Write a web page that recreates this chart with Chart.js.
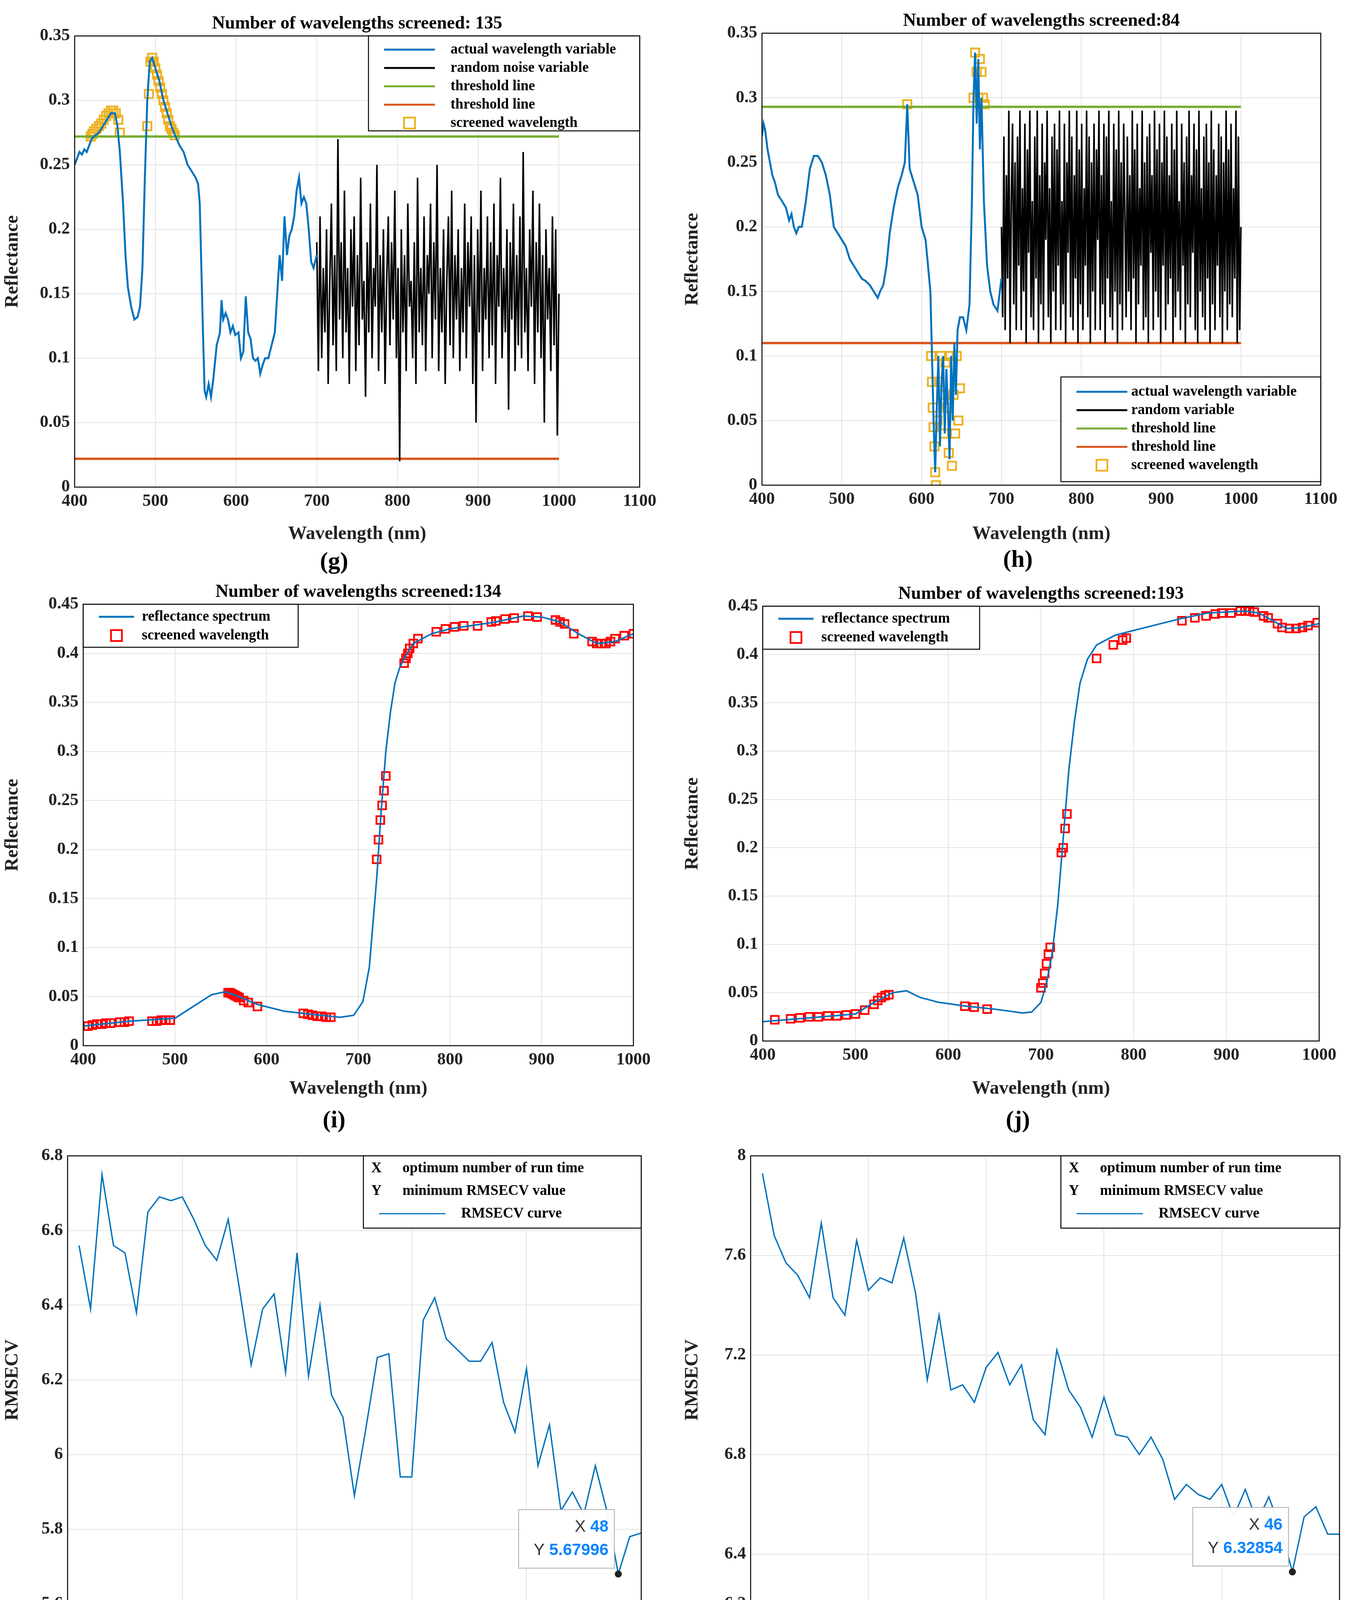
<!DOCTYPE html><html><head><meta charset="utf-8">
<script src="https://cdn.jsdelivr.net/npm/chart.js@4/dist/chart.umd.min.js"></script>
<style>body{margin:0;background:#fff;width:3460px;height:4386px;position:relative;overflow:hidden}
canvas{position:absolute}.lab{position:absolute;font:bold 62px "Liberation Serif";transform:translateX(-50%)}</style></head><body>
<div class="lab" style="left:855px;top:1400px">(g)</div><div class="lab" style="left:2605px;top:1395px">(h)</div>
<div class="lab" style="left:855px;top:2830px">(i)</div><div class="lab" style="left:2605px;top:2830px">(j)</div>
<div class="lab" style="left:855px;top:4270px">(k)</div><div class="lab" style="left:2605px;top:4270px">(l)</div>
<script>
const BLUE='#0072BD',ORANGE='#D95319',GREEN='#77AC30',YEL='#EDB120',RED='#FF0000';
// ---- panel g ----
const gSpecX=[400,403,406,409,412,415,418,421,424,430,435,440,445,450,453,456,460,463,466,470,474,478,481,484,487,490,493,496,500,505,510,515,520,525,530,535,540,545,550,553,555,557,559,561,563,566,569,572,576,580,582,584,587,590,593,596,599,603,606,609,612,615,618,621,624,627,630,633,636,640,644,648,651,654,657,660,663,666,669,672,675,678,681,684,687,690,693,696,700];
const gSpecY=[0.25,0.255,0.26,0.258,0.262,0.26,0.265,0.27,0.272,0.275,0.28,0.285,0.29,0.29,0.28,0.26,0.22,0.18,0.155,0.14,0.13,0.132,0.14,0.17,0.24,0.3,0.33,0.333,0.325,0.315,0.3,0.29,0.28,0.272,0.265,0.26,0.25,0.245,0.24,0.235,0.22,0.17,0.12,0.075,0.07,0.08,0.07,0.085,0.11,0.12,0.145,0.13,0.135,0.13,0.12,0.125,0.118,0.12,0.1,0.105,0.148,0.12,0.115,0.1,0.098,0.1,0.088,0.095,0.1,0.1,0.11,0.12,0.15,0.18,0.16,0.21,0.18,0.195,0.2,0.21,0.23,0.24,0.22,0.225,0.22,0.2,0.175,0.17,0.18];
const gNoiseTxt="19 09 21 10 17 12 20 08 16 22 11 18 09 27 13 19 10 23 12 17 08 20 14 21 09 18 11 24 13 16 07 19 12 22 10 17 14 25 09 18 12 20 08 16 21 11 19 13 23 10 17 02 20 12 18 09 22 14 16 10 19 08 24 12 17 11 21 09 18 15 22 10 19 13 25 09 17 12 20 08 16 21 11 23 10 18 13 20 09 17 12 22 10 19 14 21 08 18 05 20 12 23 09 17 13 21 10 19 11 22 08 18 14 24 10 17 12 20 06 19 13 22 09 18 11 21 10 26 12 17 09 20 14 23 08 19 12 22 10 18 05 20 13 17 09 21 11 20 04 15";
const gNoise=gNoiseTxt.split(' ').map(s=>+s/100);
const gThrHi=0.272, gThrLo=0.022;
const gScrX=[420,422,424,427,430,433,436,439,442,445,448,451,454,456,490,492,494,496,498,500,502,504,506,508,510,512,514,516,518,520,522,524];
const gScrY=[0.272,0.274,0.276,0.278,0.28,0.282,0.285,0.288,0.29,0.292,0.292,0.29,0.285,0.275,0.28,0.305,0.33,0.333,0.33,0.325,0.32,0.315,0.31,0.305,0.3,0.295,0.29,0.285,0.28,0.278,0.275,0.273];
// ---- panel h ----
const hSpecX=[400,402,404,407,410,413,416,420,425,430,434,437,440,443,446,450,455,460,465,470,475,480,485,490,495,500,505,510,515,520,525,530,535,540,545,548,552,556,560,565,570,575,579,582,585,590,595,600,605,608,611,613,615,617,619,621,623,625,627,629,631,633,635,637,639,641,643,645,648,652,656,660,663,665,667,669,671,673,675,678,682,686,690,695,700];
const hSpecY=[0.27,0.28,0.275,0.26,0.25,0.24,0.235,0.225,0.22,0.215,0.205,0.21,0.2,0.195,0.2,0.2,0.22,0.245,0.255,0.255,0.25,0.24,0.225,0.2,0.195,0.19,0.185,0.175,0.17,0.165,0.16,0.158,0.155,0.15,0.145,0.15,0.155,0.17,0.195,0.215,0.23,0.24,0.25,0.295,0.245,0.235,0.225,0.2,0.19,0.17,0.15,0.1,0.05,0.01,0.06,0.1,0.03,0.08,0.1,0.04,0.09,0.06,0.02,0.1,0.05,0.11,0.07,0.12,0.13,0.13,0.12,0.14,0.22,0.3,0.335,0.28,0.33,0.26,0.3,0.22,0.17,0.15,0.14,0.135,0.16];
const hNoiseTxt="20 13 27 12 24 16 29 11 22 28 14 25 12 27 17 29 12 23 15 28 11 26 18 29 13 22 12 27 16 29 11 24 14 28 12 25 19 29 13 23 11 27 15 28 12 26 17 29 12 22 14 28 11 25 18 29 13 27 12 24 16 29 11 26 14 28 12 23 17 29 13 27 11 25 15 28 12 26 19 29 12 24 14 28 11 27 16 29 13 22 12 28 15 26 11 29 14 25 12 28 21 13 27 15 24 12 29 16 26 11 28 14 23 17 29 12 25 13 27 11 28 18 24 12 29 15 26 13 28 11 25 17 29 12 27 14 24 16 28 11 26 13 29 15 22 12 28 17 25 11 27 14 29 13 24 18 28 12 26 11 29 15 23 13 27 12 28 16 25 11 29 14 26 12 24 17 28 13 27 11 25 15 29 12 26 14 28 13 23 16 29 11 27 12 20";
const hNoise=hNoiseTxt.split(' ').map(s=>+s/100);
const hThrHi=0.293, hThrLo=0.11;
const hScrX=[582,612,613,614,615,616,617,618,620,622,624,626,628,630,632,634,636,638,640,642,644,646,648,665,667,669,671,673,675,677,679];
const hScrY=[0.295,0.1,0.08,0.06,0.045,0.03,0.01,0.0,0.05,0.08,0.1,0.07,0.04,0.095,0.06,0.025,0.1,0.015,0.07,0.04,0.1,0.05,0.075,0.3,0.335,0.32,0.3,0.33,0.32,0.3,0.295];
// ---- panel i ----
const iSpecX=[400,450,500,520,540,555,570,590,620,650,680,695,705,712,720,725,730,735,740,745,750,760,780,800,850,880,900,920,940,960,980,1000];
const iSpecY=[0.02,0.025,0.028,0.04,0.052,0.055,0.05,0.042,0.035,0.032,0.029,0.031,0.045,0.08,0.17,0.24,0.3,0.34,0.37,0.385,0.395,0.41,0.42,0.425,0.432,0.438,0.437,0.432,0.42,0.41,0.412,0.42];
const iScrX=[405,410,415,420,425,430,440,445,450,475,480,485,490,495,558,560,562,564,566,568,570,575,580,590,640,645,650,655,660,665,670,720,722,724,726,728,730,750,752,754,756,760,765,785,795,805,815,830,845,850,860,870,885,895,915,920,925,935,955,960,965,970,975,980,990,1000];
const iScrY=[0.02,0.021,0.022,0.022,0.023,0.023,0.024,0.024,0.025,0.025,0.025,0.026,0.026,0.026,0.054,0.054,0.053,0.052,0.051,0.05,0.049,0.046,0.044,0.04,0.033,0.032,0.031,0.03,0.03,0.029,0.029,0.19,0.21,0.23,0.245,0.26,0.275,0.39,0.395,0.4,0.405,0.41,0.415,0.422,0.425,0.427,0.428,0.428,0.432,0.433,0.435,0.436,0.438,0.437,0.434,0.432,0.43,0.42,0.412,0.41,0.41,0.41,0.412,0.415,0.418,0.42];
// ---- panel j ----
const jSpecX=[400,450,500,520,540,555,570,590,620,650,680,690,700,706,712,718,724,730,736,742,750,760,780,800,850,880,900,920,935,950,965,980,1000];
const jSpecY=[0.02,0.024,0.028,0.04,0.05,0.052,0.045,0.04,0.036,0.033,0.029,0.03,0.04,0.06,0.09,0.14,0.21,0.28,0.33,0.37,0.395,0.41,0.42,0.425,0.437,0.443,0.444,0.445,0.443,0.435,0.427,0.428,0.432];
const jScrX=[413,430,440,450,460,470,480,490,500,510,520,524,528,532,536,618,628,642,700,702,704,706,708,710,722,724,726,728,760,778,788,792,852,866,878,888,895,905,915,920,925,930,940,945,955,960,968,975,982,988,998];
const jScrY=[0.022,0.023,0.024,0.025,0.025,0.026,0.026,0.027,0.028,0.032,0.038,0.042,0.045,0.047,0.048,0.036,0.035,0.033,0.055,0.06,0.07,0.08,0.09,0.097,0.195,0.2,0.22,0.235,0.396,0.41,0.415,0.417,0.435,0.438,0.44,0.442,0.443,0.443,0.445,0.445,0.445,0.444,0.44,0.438,0.432,0.428,0.427,0.427,0.428,0.43,0.433];
// ---- panel k / l ----
const runs=[1,2,3,4,5,6,7,8,9,10,11,12,13,14,15,16,17,18,19,20,21,22,23,24,25,26,27,28,29,30,31,32,33,34,35,36,37,38,39,40,41,42,43,44,45,46,47,48,49,50];
const kVals=[6.56,6.39,6.75,6.56,6.54,6.38,6.65,6.69,6.68,6.69,6.63,6.56,6.52,6.63,6.44,6.24,6.39,6.43,6.22,6.54,6.21,6.40,6.16,6.10,5.89,6.07,6.26,6.27,5.94,5.94,6.36,6.42,6.31,6.28,6.25,6.25,6.30,6.14,6.06,6.23,5.97,6.08,5.85,5.90,5.84,5.97,5.85,5.68,5.78,5.79];
const lVals=[7.93,7.68,7.57,7.52,7.43,7.73,7.43,7.36,7.66,7.46,7.51,7.49,7.67,7.45,7.10,7.36,7.06,7.08,7.01,7.15,7.21,7.08,7.16,6.94,6.88,7.22,7.06,6.99,6.87,7.03,6.88,6.87,6.80,6.87,6.78,6.62,6.68,6.64,6.62,6.68,6.55,6.66,6.53,6.63,6.50,6.33,6.55,6.59,6.48,6.48];
const kMin={x:48,y:5.67996}, lMin={x:46,y:6.32854};

const F='"Liberation Serif"';
const pts=(xs,ys)=>xs.map((x,i)=>({x,y:ys[i]}));
const spread=(a,b,ys)=>ys.map((y,i)=>({x:a+(b-a)*i/(ys.length-1),y}));
const line=(data,color,w)=>({data,showLine:true,borderColor:color,borderWidth:w||4,pointRadius:0,tension:0});
const sq=(data,color,r)=>({data,showLine:false,pointStyle:'rect',pointRadius:r||15,borderColor:color,borderWidth:4.5,backgroundColor:'rgba(0,0,0,0)'});
const fmt=v=>String(Number(v.toFixed(3)));

function panel(o){
  const c=document.createElement('canvas');c.width=o.w;c.height=o.h;
  c.style.left=o.left+'px';c.style.top=o.top+'px';document.body.appendChild(c);
  const p=o.plot;
  const plug={id:'deco',afterDraw(ch){
    const x=ch.ctx,a=ch.chartArea;
    x.save();x.strokeStyle='#000';x.lineWidth=2.5;x.strokeRect(a.left,a.top,a.right-a.left,a.bottom-a.top);
    if(o.title){x.font='bold 46px '+F;x.fillStyle='#000';x.textAlign='center';x.textBaseline='bottom';x.fillText(o.title,(a.left+a.right)/2,a.top-8);}
    if(o.legend){const L=o.legend;x.fillStyle='#fff';x.fillRect(L.x,L.y,L.w,L.h);x.strokeStyle='#000';x.lineWidth=2.5;x.strokeRect(L.x,L.y,L.w,L.h);
      x.font='bold 37px '+F;x.textAlign='left';x.textBaseline='middle';
      L.items.forEach((it,i)=>{const yy=L.y+L.pad+i*L.dy;
        if(it.t==='line'){x.strokeStyle=it.c;x.lineWidth=it.w||5;x.beginPath();x.moveTo(L.x+40,yy);x.lineTo(L.x+40+L.lw,yy);x.stroke();}
        else if(it.t==='sq'){x.strokeStyle=it.c;x.lineWidth=4.5;x.strokeRect(L.x+40+L.lw/2-14,yy-14,28,28);}
        else {x.fillStyle='#000';x.fillText(it.k,L.x+20,yy);}
        x.fillStyle='#000';x.fillText(it.s,L.x+(it.tx||L.tx),yy);});}
    if(o.tip){const sx=ch.scales.x.getPixelForValue(o.tip.x),sy=ch.scales.y.getPixelForValue(o.tip.y);
      x.fillStyle='#222';x.beginPath();x.arc(sx,sy,9,0,7);x.fill();
      const bx=sx-255,by=sy-165,bw=245,bh=150;x.fillStyle='rgba(255,255,255,0.95)';x.fillRect(bx,by,bw,bh);x.strokeStyle='#aaa';x.lineWidth=2;x.strokeRect(bx,by,bw,bh);
      x.textAlign='right';x.textBaseline='middle';
      [['X ',String(o.tip.x)],['Y ',String(o.tip.y)]].forEach((r,i)=>{const yy=by+45+i*60;x.font='bold 42px Arial';x.fillStyle='#0a84ff';x.fillText(r[1],bx+bw-15,yy);const w=x.measureText(r[1]).width;x.font='42px Arial';x.fillStyle='#333';x.fillText(r[0],bx+bw-15-w,yy);});}
    x.restore();}};
  new Chart(c,{type:'scatter',data:{datasets:o.ds},plugins:[plug],options:{animation:false,responsive:false,devicePixelRatio:1,
    layout:{padding:{left:0,top:p.t,right:o.w-p.r,bottom:0}},
    plugins:{legend:{display:false},tooltip:{enabled:false}},
    scales:{x:{type:'linear',min:o.x[0],max:o.x[1],afterFit:s=>{s.height=o.h-p.b},
      ticks:{stepSize:o.x[2],font:{size:44,weight:'bold',family:F},color:'#222',padding:10,callback:fmt},
      grid:{color:'#e3e3e3',lineWidth:2,tickLength:0},border:{display:false},
      title:{display:true,text:o.xl,font:{size:48,weight:'bold',family:F},color:'#222',padding:{top:0}}},
     y:{type:'linear',min:o.y[0],max:o.y[1],afterFit:s=>{s.width=p.l},
      ticks:{stepSize:o.y[2],font:{size:44,weight:'bold',family:F},color:'#222',padding:12,callback:fmt},
      grid:{color:'#e3e3e3',lineWidth:2,tickLength:0},border:{display:false},
      title:{display:true,text:o.yl,font:{size:48,weight:'bold',family:F},color:'#222'}}}}});
}
const legG={x:943,y:92,w:694,h:243,pad:35,dy:47,lw:130,tx:210,items:[{t:'line',c:BLUE,s:'actual wavelength variable'},{t:'line',c:'#000',s:'random noise variable'},{t:'line',c:GREEN,s:'threshold line'},{t:'line',c:ORANGE,s:'threshold line'},{t:'sq',c:YEL,s:'screened wavelength'}]};
panel({left:0,top:0,w:1720,h:1400,plot:{l:191,t:92,r:1637,b:1247},x:[400,1100,100],y:[0,0.35,0.05],xl:'Wavelength (nm)',yl:'Reflectance',
  title:'Number of wavelengths screened: 135',legend:legG,
  ds:[line(pts(gSpecX,gSpecY),BLUE,5),line(spread(700,1000,gNoise),'#000',4),line(pts([400,1000],[gThrHi,gThrHi]),GREEN,6),line(pts([400,1000],[gThrLo,gThrLo]),ORANGE,6),sq(pts(gScrX,gScrY),YEL)]});
const legH={x:2715-1740,y:965,w:665,h:268,pad:38,dy:47,lw:130,tx:180,items:[{t:'line',c:BLUE,s:'actual wavelength variable'},{t:'line',c:'#000',s:'random variable'},{t:'line',c:GREEN,s:'threshold line'},{t:'line',c:ORANGE,s:'threshold line'},{t:'sq',c:YEL,s:'screened wavelength'}]};
panel({left:1740,top:0,w:1720,h:1400,plot:{l:210,t:85,r:1640,b:1242},x:[400,1100,100],y:[0,0.35,0.05],xl:'Wavelength (nm)',yl:'Reflectance',
  title:'Number of wavelengths screened:84',legend:legH,
  ds:[line(pts(hSpecX,hSpecY),BLUE,5),line(spread(700,1000,hNoise),'#000',4),line(pts([400,1000],[hThrHi,hThrHi]),GREEN,6),line(pts([400,1000],[hThrLo,hThrLo]),ORANGE,6),sq(pts(hScrX,hScrY),YEL)]});
const legI={x:213,y:77,w:550,h:110,pad:32,dy:48,lw:90,tx:150,items:[{t:'line',c:BLUE,s:'reflectance spectrum'},{t:'sq',c:RED,s:'screened wavelength'}]};
panel({left:0,top:1470,w:1720,h:1350,plot:{l:213,t:77,r:1621,b:1207},x:[400,1000,100],y:[0,0.45,0.05],xl:'Wavelength (nm)',yl:'Reflectance',
  title:'Number of wavelengths screened:134',legend:legI,
  ds:[line(pts(iSpecX,iSpecY),BLUE,4),sq(pts(iScrX,iScrY),RED,14)]});
const legJ={x:212,y:82,w:555,h:110,pad:32,dy:48,lw:90,tx:150,items:[{t:'line',c:BLUE,s:'reflectance spectrum'},{t:'sq',c:RED,s:'screened wavelength'}]};
panel({left:1740,top:1470,w:1720,h:1350,plot:{l:212,t:82,r:1636,b:1195},x:[400,1000,100],y:[0,0.45,0.05],xl:'Wavelength (nm)',yl:'Reflectance',
  title:'Number of wavelengths screened:193',legend:legJ,
  ds:[line(pts(jSpecX,jSpecY),BLUE,4),sq(pts(jScrX,jScrY),RED,14)]});
const legK={x:930,y:79,w:711,h:185,pad:32,dy:58,lw:170,tx:100,items:[{t:'k',k:'X',s:'optimum number of run time'},{t:'k',k:'Y',s:'minimum RMSECV value'},{t:'line',c:BLUE,w:3,s:'RMSECV curve',tx:250}]};
panel({left:0,top:2880,w:1720,h:1380,plot:{l:173,t:79,r:1641,b:1226},x:[0,50,10],y:[5.6,6.8,0.2],xl:'EDF run times',yl:'RMSECV',
  legend:legK,tip:kMin,ds:[line(pts(runs,kVals),BLUE,3.5)]});
const legL={x:2715-1740,y:79,w:714,h:185,pad:32,dy:58,lw:170,tx:100,items:[{t:'k',k:'X',s:'optimum number of run time'},{t:'k',k:'Y',s:'minimum RMSECV value'},{t:'line',c:BLUE,w:3,s:'RMSECV curve',tx:250}]};
panel({left:1740,top:2880,w:1720,h:1380,plot:{l:181,t:79,r:1689,b:1226},x:[0,50,10],y:[6.2,8,0.4],xl:'EDF run times',yl:'RMSECV',
  legend:legL,tip:lMin,ds:[line(pts(runs,lVals),BLUE,3.5)]});
</script></body></html>
